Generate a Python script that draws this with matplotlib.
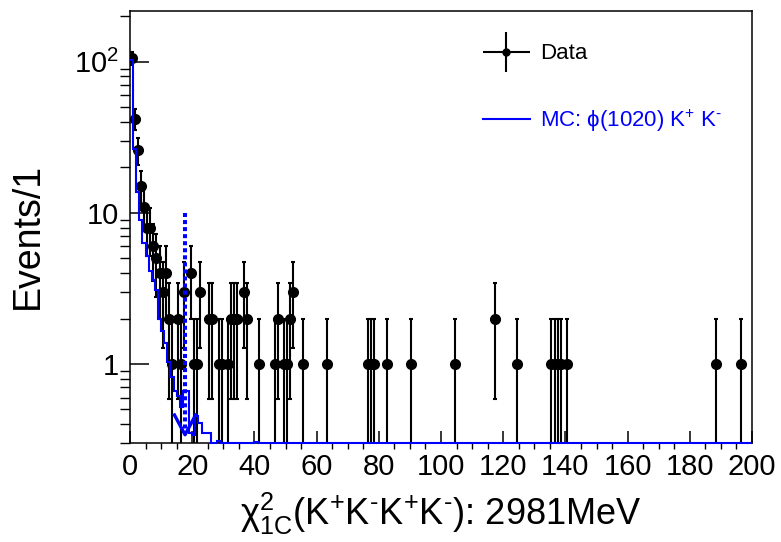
import numpy as np
import matplotlib
matplotlib.use("Agg")
import matplotlib.pyplot as plt
from matplotlib.lines import Line2D
from matplotlib.container import ErrorbarContainer
from matplotlib.legend_handler import HandlerErrorbar
from matplotlib.ticker import (FixedLocator, FixedFormatter, MultipleLocator,
                               LogLocator, NullFormatter)

plt.rcParams["font.family"] = ["Liberation Sans", "DejaVu Sans"]
plt.rcParams["mathtext.fontset"] = "custom"
plt.rcParams["mathtext.rm"] = "Liberation Sans"
plt.rcParams["mathtext.it"] = "Liberation Sans:italic"
plt.rcParams["mathtext.bf"] = "Liberation Sans:bold"

# chi2_1C histogram, bin width 1 from 0 to 200: non-empty data bins
data_bins = [0, 1, 2, 3, 4, 5, 6, 7, 8, 9, 10, 11, 12, 13, 15, 16, 17, 19, 20, 21,
             22, 25, 26, 28, 29, 31, 32, 33, 34, 36, 37, 41, 46, 47, 49, 50, 51, 52,
             55, 63, 76, 77, 78, 82, 90, 104, 117, 124, 135, 136, 137, 138, 140,
             188, 196]
data_counts = [106, 42, 26, 15, 11, 8, 8, 6, 5, 4, 3, 4, 2, 1, 2, 1, 3, 4, 1, 1,
               3, 2, 2, 1, 1, 1, 2, 2, 2, 3, 2, 1, 1, 2, 1, 1, 2, 3,
               1, 1, 1, 1, 1, 1, 1, 1, 2, 1, 1, 1, 1, 1, 1,
               1, 1]

# MC phi(1020) K+ K- (normalised), bins 0..40, empty afterwards
mc_counts = [103, 26.5, 13.7, 9.0, 6.3, 5.2, 4.1, 3.6, 3.1, 2.0,
             1.65, 1.37, 1.03, 0.82, 0.66, 0.61, 0.52, 0.66, 0.66, 0.35,
             0.34, 0.45, 0.41, 0.35, 0.35, 0.35, 0, 0, 0.31, 0,
             0, 0, 0, 0, 0, 0, 0, 0, 0, 0, 0.305]

cut_value = 17.7
x_ticks = list(range(0, 201, 20))
y_ticks = [1, 10, 100]
y_tick_labels = ["1", "10", r"$10^{2}$"]

BLUE = "#0000ff"
ymin, ymax = 0.3, 217
HY = "\u2010"  # short ROOT-style minus in K- superscripts

fig = plt.figure(figsize=(7.81, 5.42), dpi=100)
ax = fig.add_axes([130 / 781, 1 - 443 / 542, 622 / 781, 432 / 542])

edges = np.arange(201)
mc = np.zeros(200)
mc[:len(mc_counts)] = mc_counts

x = np.array(data_bins) + 0.5
n = np.array(data_counts, dtype=float)
err = np.sqrt(n)
lo = n - np.maximum(n - err, 1e-3)

ax.errorbar(x, n, yerr=[lo, err], xerr=0.5, fmt="o", color="k", ms=7,
            elinewidth=1.5, capsize=1.6, capthick=1.5, zorder=3)
ax.stairs(np.maximum(mc, ymin), edges, baseline=None, color=BLUE, lw=1.5,
          clip_on=False, zorder=4)

# cut arrow
ax.plot([cut_value, cut_value], [10, 0.37], color=BLUE, lw=2.9,
        ls=(0, (1, 0.75)), zorder=5)
ax.plot([cut_value - 3.4, cut_value, cut_value + 3.4], [0.46, 0.34, 0.46],
        color=BLUE, lw=2.4, zorder=5)

ax.set_xlim(0, 200)
ax.set_yscale("log")
ax.set_ylim(ymin, ymax)
ax.xaxis.set_major_locator(FixedLocator(x_ticks))
ax.xaxis.set_minor_locator(MultipleLocator(5))
ax.yaxis.set_major_locator(FixedLocator(y_ticks))
ax.yaxis.set_major_formatter(FixedFormatter(y_tick_labels))
ax.yaxis.set_minor_locator(LogLocator(subs=np.arange(2, 10)))
ax.yaxis.set_minor_formatter(NullFormatter())

ax.tick_params(direction="in", top=False, right=False, labelsize=21, width=1.1)
ax.tick_params(axis="x", which="major", length=8.6, pad=7)
ax.tick_params(axis="x", which="minor", length=4.3, width=1.0)
ax.tick_params(axis="y", which="major", length=13.7, pad=8)
ax.tick_params(axis="y", which="minor", length=7, width=1.0)
for s in ax.spines.values():
    s.set_linewidth(1.1)

ax.set_xlabel(r"$\mathrm{\chi}^{2}_{\mathrm{1C}}$(K$^{+}$K$^{%s}$K$^{+}$K$^{%s}$): 2981MeV"
              % (HY, HY), fontsize=26)
ax.xaxis.set_label_coords(0.5, -0.11)
ax.xaxis.label.set_va("top")
ax.set_ylabel("Events/1", fontsize=27)
ax.yaxis.set_label_coords(-0.136, 0.48)

data_h = ax.errorbar([], [], xerr=[], yerr=[], fmt="o", color="k", ms=5,
                     elinewidth=1.5, capsize=0)
mc_h = Line2D([], [], color=BLUE, lw=1.5)
leg = ax.legend([data_h, mc_h],
                ["Data", r"MC: $\mathrm{\phi}$(1020) K$^{+}$ K$^{%s}$" % HY],
                loc="upper left", bbox_to_anchor=(0.5675, 0.925), frameon=False,
                fontsize=16, handlelength=2.1, handletextpad=0.45, labelspacing=1.95,
                borderpad=0, borderaxespad=0,
                handler_map={ErrorbarContainer: HandlerErrorbar(xerr_size=1.05,
                                                                 yerr_size=0.9)})
leg.get_texts()[1].set_color(BLUE)

fig.savefig("out.png", dpi=100)
